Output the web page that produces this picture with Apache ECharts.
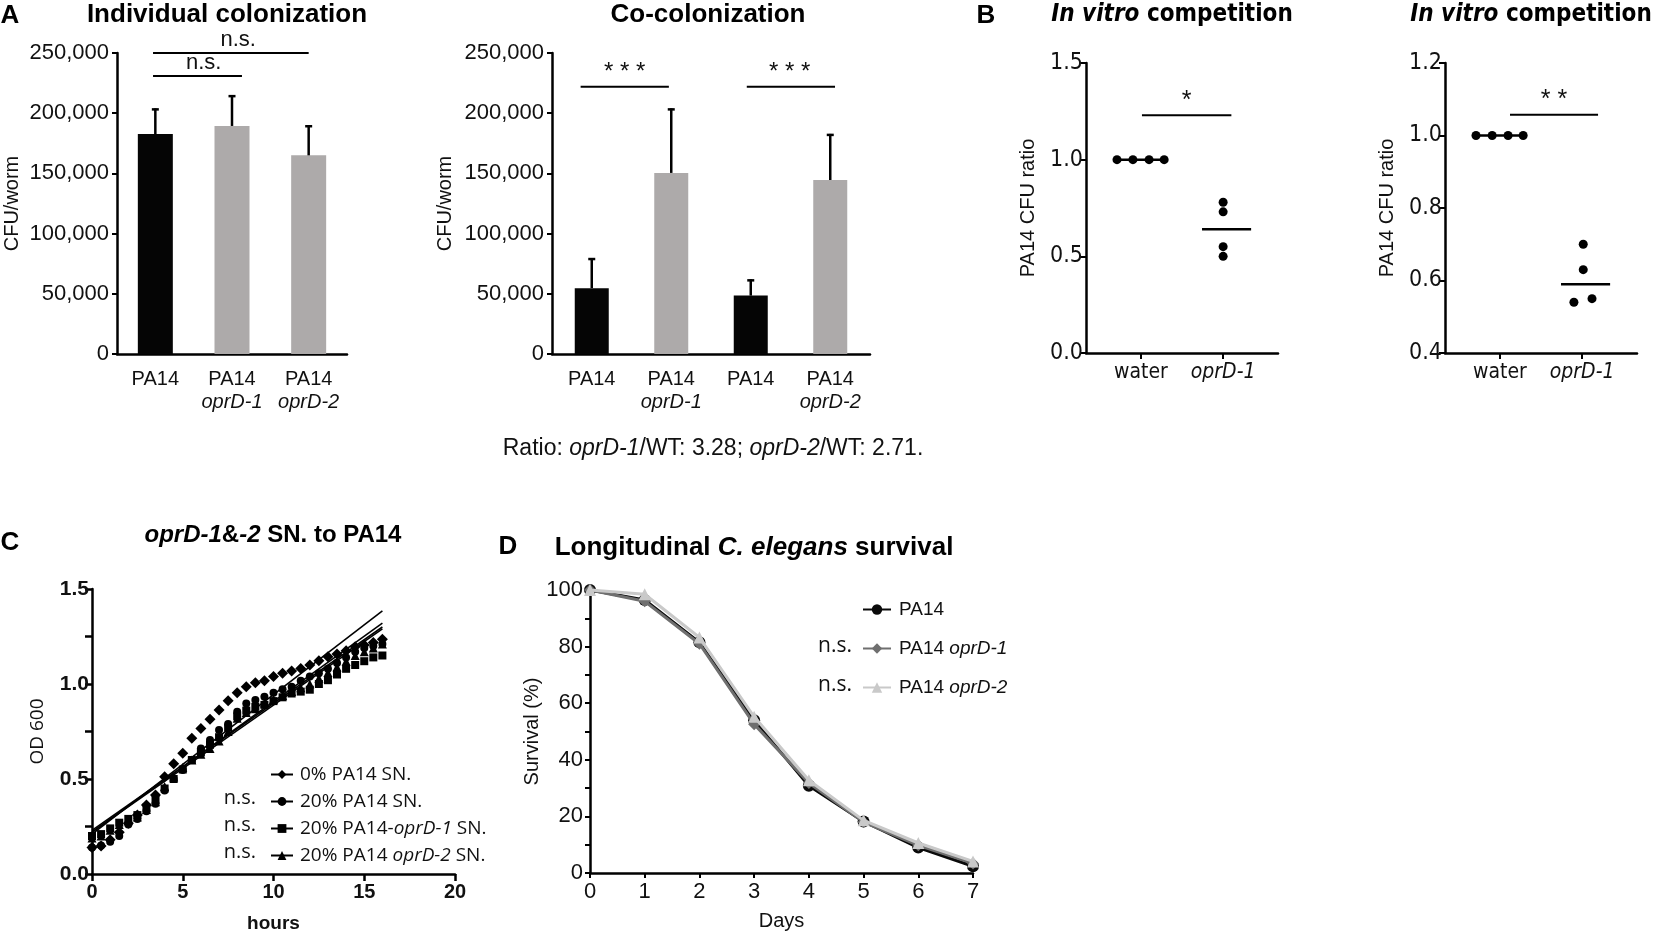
<!DOCTYPE html>
<html><head><meta charset="utf-8">
<script src="https://cdn.jsdelivr.net/npm/echarts@6/dist/echarts.min.js"></script>
<style>html,body{margin:0;padding:0;background:#fff}#c{width:1654px;height:939px}</style>
</head><body><div id="c"></div>
<script>
// ---------------- DATA ----------------
// Panel A - individual colonization (CFU/worm)
const indivCategories = ['PA14', 'PA14 oprD-1', 'PA14 oprD-2'];
const indivMean = [182700, 189400, 165000];
const indivSD = [21300, 25600, 25000];
const indivSig = [
  {from: -0.03, to: 2.0, y: 250000, at: 1.08, text: 'n.s.'},
  {from: -0.03, to: 1.13, y: 231000, at: 0.63, text: 'n.s.'}
];
// Panel A - co-colonization
const coCategories = ['PA14', 'PA14 oprD-1', 'PA14', 'PA14 oprD-2'];
const coMean = [54700, 150400, 48500, 144500];
const coSD = [25000, 53600, 13500, 38300];
const coSig = [
  {from: -0.14, to: 0.97, y: 222000, at: 0.415, text: '* * *'},
  {from: 1.95, to: 3.06, y: 222000, at: 2.49, text: '* * *'}
];
const ratioText = 'Ratio: {i|oprD-1}/WT: 3.28; {i|oprD-2}/WT: 2.71.';

// Panel B - in vitro competition (PA14 CFU ratio)
const bGroups = ['water', 'oprD-1'];
const bGroupPos = [2, 5];
const b1Water = [1.0, 1.0, 1.0, 1.0];
const b1WaterX = [1.13, 1.71, 2.30, 2.85];
const b1Oprd = [0.78, 0.73, 0.55, 0.50];
const b1OprdX = [5.0, 5.0, 5.0, 5.0];
const b2Water = [1.0, 1.0, 1.0, 1.0];
const b2WaterX = [1.13, 1.72, 2.30, 2.85];
const b2Oprd = [0.70, 0.63, 0.54, 0.55];
const b2OprdX = [5.04, 5.04, 4.70, 5.36];
const medianSpanWater = [1.13, 2.85];
const medianSpanOprd = [4.23, 6.02];
const b1Sig = [{from: 2.04, to: 5.30, y: 1.23, text: '*'}];
const b2Sig = [{from: 2.37, to: 5.58, y: 1.057, text: '* *'}];

// Panel C - growth curves (OD600)
const hours = [0,0.5,1,1.5,2,2.5,3,3.5,4,4.5,5,5.5,6,6.5,7,7.5,8,8.5,9,9.5,10,10.5,11,11.5,12,12.5,13,13.5,14,14.5,15,15.5,16];
const sn0 = [0.14,0.147,0.18,0.22,0.267,0.31,0.363,0.416,0.512,0.58,0.635,0.714,0.766,0.814,0.863,0.912,0.954,0.986,1.007,1.017,1.039,1.056,1.068,1.082,1.10,1.123,1.144,1.158,1.175,1.196,1.205,1.218,1.235];
const sn20 = [0.14,0.15,0.17,0.20,0.26,0.29,0.33,0.37,0.44,0.50,0.547,0.60,0.66,0.705,0.758,0.79,0.854,0.898,0.916,0.933,0.954,0.972,0.986,1.017,1.04,1.056,1.08,1.11,1.14,1.17,1.19,1.20,1.21];
const snOprd1 = [0.20,0.21,0.24,0.27,0.29,0.31,0.35,0.39,0.45,0.50,0.55,0.60,0.64,0.68,0.72,0.77,0.83,0.86,0.88,0.89,0.91,0.93,0.95,0.96,0.97,1.00,1.02,1.05,1.08,1.10,1.12,1.14,1.15];
const snOprd2 = [0.19,0.20,0.23,0.26,0.28,0.30,0.34,0.38,0.46,0.51,0.56,0.60,0.63,0.66,0.70,0.75,0.82,0.85,0.87,0.90,0.92,0.94,0.96,0.98,1.00,1.03,1.06,1.09,1.12,1.15,1.17,1.19,1.21];
const cNames = ['0% PA14 SN.', '20% PA14 SN.', '20% PA14-oprD-1 SN.', '20% PA14 oprD-2 SN.'];
const fitRange = [0, 16];
const fitLines = [[0.21, 1.385], [0.22, 1.32], [0.23, 1.30], [0.22, 1.29]];

// Panel D - survival
const days = [0, 1, 2, 3, 4, 5, 6, 7];
const survPA14 = [100, 96.5, 81.5, 54, 30.8, 18.2, 9.0, 2.4];
const survOprd1 = [100, 96.0, 81.0, 52.6, 31.8, 18.0, 9.8, 3.4];
const survOprd2 = [100, 98.5, 83.2, 55.2, 32.8, 18.6, 10.6, 4.1];
const dNames = ['PA14', 'PA14 oprD-1', 'PA14 oprD-2'];

// ---------------- STYLE HELPERS ----------------
const FONT = "'Liberation Sans', Arial, sans-serif";
const FONT_N = "'Liberation Sans Narrow', 'DejaVu Sans Condensed', 'Liberation Sans', sans-serif";
const FONT_O = "'Open Sans', sans-serif";
const INK = '#111';
const BLACK_BAR = '#050505', GRAY_BAR = '#ADAAAA';

function strainLabel(name) {
  const p = name.split(' ');
  return p.length > 1 ? p[0] + '\n{i|' + p[1] + '}' : p[0];
}
function commas(v) { return String(v).replace(/\B(?=(\d{3})+(?!\d))/g, ','); }
function italicize(name) { return name.replace(/(oprD-\d)/, '{i|$1}'); }

const axisLineStyle = {show: true, onZero: false, lineStyle: {color: '#000', width: 2.5}};
const tickStyle = {show: true, length: 5, lineStyle: {color: '#000', width: 2}};

function errSeries(means, sds, xi, yi) {
  return {
    type: 'custom', xAxisIndex: xi, yAxisIndex: yi, clip: false, silent: true, z: 4,
    data: means.map((m, i) => [i, m, sds[i]]),
    renderItem: (params, api) => {
      const x = api.value(0), m = api.value(1), e = api.value(2);
      const p0 = api.coord([x, m]), p1 = api.coord([x, m + e]);
      return {type: 'group', children: [
        {type: 'line', shape: {x1: p0[0], y1: p0[1], x2: p1[0], y2: p1[1]}, style: {stroke: '#000', lineWidth: 2.5}},
        {type: 'line', shape: {x1: p1[0] - 3.5, y1: p1[1] + 1, x2: p1[0] + 3.5, y2: p1[1] + 1}, style: {stroke: '#000', lineWidth: 2.5}}
      ]};
    }
  };
}

function sigSeries(list, xi, yi, isCategory, font, size) {
  return {
    type: 'custom', xAxisIndex: xi, yAxisIndex: yi, clip: false, silent: true, z: 6,
    data: list.map(s => [0, s.y]),
    renderItem: (params, api) => {
      const s = list[params.dataIndex];
      let px;
      if (isCategory) {
        const base = api.coord([0, s.y]);
        const band = api.size([1, 0])[0];
        px = v => base[0] + v * band;
      } else {
        px = v => api.coord([v, s.y])[0];
      }
      const y = api.coord([0, s.y])[1];
      const at = s.at !== undefined ? s.at : (s.from + s.to) / 2;
      return {type: 'group', children: [
        {type: 'line', shape: {x1: px(s.from), y1: y, x2: px(s.to), y2: y}, style: {stroke: '#000', lineWidth: 2}},
        {type: 'text', x: px(at), y: y - 2, style: {text: s.text, fontFamily: font, fontSize: size, fill: INK, align: 'center', verticalAlign: 'bottom'}}
      ]};
    }
  };
}

function dots(xs, ys, xi, yi) {
  return {type: 'scatter', xAxisIndex: xi, yAxisIndex: yi, symbol: 'circle', symbolSize: 9,
    itemStyle: {color: '#000', opacity: 1}, silent: true, z: 5, data: ys.map((v, i) => [xs[i], v])};
}
function median(a) {
  const s = a.slice().sort((x, y) => x - y); const n = s.length;
  return n % 2 ? s[(n - 1) / 2] : (s[n / 2 - 1] + s[n / 2]) / 2;
}
function medLine(span, vals, xi, yi) {
  const m = median(vals);
  return {type: 'line', xAxisIndex: xi, yAxisIndex: yi, symbol: 'none', silent: true, z: 4,
    lineStyle: {color: '#000', width: 2.5}, data: [[span[0], m], [span[1], m]]};
}

function bAxisX(gi) {
  return {gridIndex: gi, type: 'value', min: 0, max: 7,
    axisLine: axisLineStyle, splitLine: {show: false},
    axisTick: {show: true, length: 6, lineStyle: {color: '#000', width: 2}, customValues: bGroupPos},
    axisLabel: {customValues: bGroupPos, margin: 9, fontFamily: FONT_N, fontSize: 21, color: INK,
      formatter: v => { const i = bGroupPos.indexOf(v); return i < 0 ? '' : (bGroups[i] === 'water' ? 'water' : '{i|' + bGroups[i] + '}'); },
      rich: {i: {fontFamily: FONT_N, fontSize: 21, fontStyle: 'italic', color: INK}}}};
}
function bAxisY(gi, min, max, interval) {
  return {gridIndex: gi, type: 'value', min: min, max: max, interval: interval,
    axisLine: axisLineStyle, axisTick: {show: true, length: 6, lineStyle: {color: '#000', width: 2}},
    splitLine: {show: false},
    axisLabel: {fontFamily: FONT_N, fontSize: 23, color: INK, margin: 3, formatter: v => v.toFixed(1)},
    name: 'PA14 CFU ratio', nameLocation: 'middle', nameRotate: 90, nameGap: 48,
    nameTextStyle: {fontFamily: FONT, fontSize: 20, color: INK}};
}

function cSeries(name, vals, symbol, size) {
  return {type: 'line', name: name, xAxisIndex: 4, yAxisIndex: 4, symbol: symbol, symbolSize: size,
    showSymbol: true, silent: true, z: 3,
    itemStyle: {color: '#000', borderWidth: 0, opacity: 1}, lineStyle: {opacity: 0, width: 0},
    data: hours.map((t, i) => [t, vals[i]])};
}
function dSeries(name, vals, symbol, color, z) {
  return {type: 'line', name: name, xAxisIndex: 5, yAxisIndex: 5, symbol: symbol, symbolSize: 12,
    silent: true, z: z, itemStyle: {color: color, opacity: 1}, lineStyle: {color: color, width: 3},
    data: days.map((d, i) => [d, vals[i]])};
}

const txt = (x, y, text, size, weight, extra) => Object.assign({type: 'text', x: x, y: y,
  style: Object.assign({text: text, fontFamily: FONT, fontWeight: weight || 'normal', fontSize: size, fill: '#000',
    align: 'center', verticalAlign: 'middle'}, extra || {})});

const option = {
  animation: false,
  backgroundColor: '#fff',
  grid: [
    {left: 117, top: 53, width: 230, height: 301},
    {left: 552, top: 53, width: 318, height: 301},
    {left: 1086, top: 63, width: 192, height: 290},
    {left: 1445, top: 63, width: 192, height: 290},
    {left: 92, top: 589, width: 363, height: 285},
    {left: 590, top: 590, width: 383, height: 283}
  ],
  xAxis: [
    {gridIndex: 0, type: 'category', data: indivCategories, axisLine: axisLineStyle, axisTick: {show: false},
      axisLabel: {interval: 0, margin: 14, fontFamily: FONT, fontSize: 20, color: INK, lineHeight: 23,
        formatter: (v, i) => strainLabel(indivCategories[i]),
        rich: {i: {fontFamily: FONT, fontSize: 20, fontStyle: 'italic', color: INK, lineHeight: 23}}}},
    {gridIndex: 1, type: 'category', data: coCategories, axisLine: axisLineStyle, axisTick: {show: false},
      axisLabel: {interval: 0, margin: 14, fontFamily: FONT, fontSize: 20, color: INK, lineHeight: 23,
        formatter: (v, i) => strainLabel(coCategories[i]),
        rich: {i: {fontFamily: FONT, fontSize: 20, fontStyle: 'italic', color: INK, lineHeight: 23}}}},
    bAxisX(2),
    bAxisX(3),
    {gridIndex: 4, type: 'value', min: 0, max: 20, interval: 5, axisLine: axisLineStyle,
      axisTick: {show: true, length: 7, lineStyle: {color: '#000', width: 2.5}}, splitLine: {show: false},
      axisLabel: {fontFamily: FONT, fontWeight: 'bold', fontSize: 20, color: INK, margin: 8},
      name: 'hours', nameLocation: 'middle', nameGap: 40,
      nameTextStyle: {fontFamily: FONT, fontWeight: 'bold', fontSize: 19, color: INK}},
    {gridIndex: 5, type: 'value', min: 0, max: 7, interval: 1, axisLine: axisLineStyle,
      axisTick: tickStyle, splitLine: {show: false},
      axisLabel: {fontFamily: FONT, fontSize: 22, color: INK, margin: 8},
      name: 'Days', nameLocation: 'middle', nameGap: 38,
      nameTextStyle: {fontFamily: FONT, fontSize: 20, color: INK}}
  ],
  yAxis: [
    {gridIndex: 0, type: 'value', min: 0, max: 250000, interval: 50000, axisLine: axisLineStyle,
      axisTick: tickStyle, splitLine: {show: false},
      axisLabel: {fontFamily: FONT, fontSize: 22, color: INK, margin: 8, formatter: v => commas(v)},
      name: 'CFU/worm', nameLocation: 'middle', nameRotate: 90, nameGap: 95,
      nameTextStyle: {fontFamily: FONT, fontSize: 20, color: INK}},
    {gridIndex: 1, type: 'value', min: 0, max: 250000, interval: 50000, axisLine: axisLineStyle,
      axisTick: tickStyle, splitLine: {show: false},
      axisLabel: {fontFamily: FONT, fontSize: 22, color: INK, margin: 8, formatter: v => commas(v)},
      name: 'CFU/worm', nameLocation: 'middle', nameRotate: 90, nameGap: 97,
      nameTextStyle: {fontFamily: FONT, fontSize: 20, color: INK}},
    bAxisY(2, 0, 1.5, 0.5),
    bAxisY(3, 0.4, 1.2, 0.2),
    {gridIndex: 4, type: 'value', min: 0, max: 1.5, interval: 0.25, axisLine: axisLineStyle,
      axisTick: {show: true, length: 7, lineStyle: {color: '#000', width: 2.5}}, splitLine: {show: false},
      axisLabel: {fontFamily: FONT, fontWeight: 'bold', fontSize: 21, color: INK, margin: 3,
        formatter: v => (Math.abs(v * 2 - Math.round(v * 2)) < 1e-6 ? v.toFixed(1) : '')},
      name: 'OD 600', nameLocation: 'middle', nameRotate: 90, nameGap: 45,
      nameTextStyle: {fontFamily: FONT_O, fontSize: 19, color: INK}},
    {gridIndex: 5, type: 'value', min: 0, max: 100, interval: 10, axisLine: axisLineStyle,
      axisTick: tickStyle, splitLine: {show: false},
      axisLabel: {fontFamily: FONT, fontSize: 22, color: INK, margin: 7,
        formatter: v => (v % 20 === 0 ? String(v) : '')},
      name: 'Survival (%)', nameLocation: 'middle', nameRotate: 90, nameGap: 42,
      nameTextStyle: {fontFamily: FONT, fontSize: 20, color: INK}}
  ],
  legend: [
    {data: cNames, orient: 'vertical', left: 265, top: 760, itemWidth: 22, itemHeight: 11, itemGap: 8,
      selectedMode: false, formatter: n => italicize(n),
      lineStyle: {width: 2, color: '#000', opacity: 1},
      textStyle: {fontFamily: FONT_O, fontSize: 19, color: INK, padding: [0, 0, 0, 2],
        rich: {i: {fontFamily: FONT_O, fontSize: 19, fontStyle: 'italic', color: INK}}}},
    {data: dNames, orient: 'vertical', left: 857, top: 595, itemWidth: 28, itemHeight: 13, itemGap: 20,
      selectedMode: false, formatter: n => italicize(n),
      textStyle: {fontFamily: FONT, fontSize: 19, color: INK, padding: [0, 0, 0, 3],
        rich: {i: {fontFamily: FONT, fontSize: 19, fontStyle: 'italic', color: INK}}}}
  ],
  series: [
    // A1
    {type: 'bar', xAxisIndex: 0, yAxisIndex: 0, barWidth: 35, silent: true,
      data: indivMean.map((v, i) => ({value: v, itemStyle: {color: indivCategories[i].includes('oprD') ? GRAY_BAR : BLACK_BAR}}))},
    errSeries(indivMean, indivSD, 0, 0),
    sigSeries(indivSig, 0, 0, true, FONT, 22),
    // A2
    {type: 'bar', xAxisIndex: 1, yAxisIndex: 1, barWidth: 34, silent: true,
      data: coMean.map((v, i) => ({value: v, itemStyle: {color: coCategories[i].includes('oprD') ? GRAY_BAR : BLACK_BAR}}))},
    errSeries(coMean, coSD, 1, 1),
    sigSeries(coSig, 1, 1, true, FONT, 24),
    // B1
    medLine(medianSpanWater, b1Water, 2, 2),
    medLine(medianSpanOprd, b1Oprd, 2, 2),
    dots(b1WaterX, b1Water, 2, 2),
    dots(b1OprdX, b1Oprd, 2, 2),
    sigSeries(b1Sig, 2, 2, false, FONT, 25),
    // B2
    medLine(medianSpanWater, b2Water, 3, 3),
    medLine(medianSpanOprd, b2Oprd, 3, 3),
    dots(b2WaterX, b2Water, 3, 3),
    dots(b2OprdX, b2Oprd, 3, 3),
    sigSeries(b2Sig, 3, 3, false, FONT, 25),
    // C
    cSeries(cNames[0], sn0, 'diamond', 11),
    cSeries(cNames[1], sn20, 'circle', 8),
    cSeries(cNames[2], snOprd1, 'rect', 8),
    cSeries(cNames[3], snOprd2, 'triangle', 9),
    ...fitLines.map(f => ({type: 'line', xAxisIndex: 4, yAxisIndex: 4, symbol: 'none', silent: true, z: 4,
      lineStyle: {color: '#000', width: 1.6}, data: [[fitRange[0], f[0]], [fitRange[1], f[1]]]})),
    // D
    dSeries(dNames[0], survPA14, 'circle', '#0a0a0a', 3),
    dSeries(dNames[1], survOprd1, 'diamond', '#6f6f6f', 4),
    dSeries(dNames[2], survOprd2, 'triangle', '#c9c9c9', 5)
  ],
  graphic: [
    txt(10, 16, 'A', 26, 'bold'),
    txt(986, 16, 'B', 26, 'bold'),
    txt(10, 543, 'C', 26, 'bold'),
    txt(508, 547, 'D', 26, 'bold'),
    txt(227, 15, 'Individual colonization', 26, 'bold'),
    txt(708, 15, 'Co-colonization', 26, 'bold'),
    txt(1172, 15, '{i|In vitro} competition', 24, 'bold', {fontFamily: FONT_N,
      rich: {i: {fontFamily: FONT_N, fontWeight: 'bold', fontStyle: 'italic', fontSize: 24, fill: '#000'}}}),
    txt(1531, 15, '{i|In vitro} competition', 24, 'bold', {fontFamily: FONT_N,
      rich: {i: {fontFamily: FONT_N, fontWeight: 'bold', fontStyle: 'italic', fontSize: 24, fill: '#000'}}}),
    txt(273, 535, '{i|oprD-1}&{i|-2} SN. to PA14', 24, 'bold',
      {rich: {i: {fontFamily: FONT, fontWeight: 'bold', fontStyle: 'italic', fontSize: 24, fill: '#000'}}}),
    txt(754, 548, 'Longitudinal {i|C. elegans} survival', 26, 'bold',
      {rich: {i: {fontFamily: FONT, fontWeight: 'bold', fontStyle: 'italic', fontSize: 26, fill: '#000'}}}),
    txt(713, 449, ratioText, 23, 'normal',
      {fill: INK, rich: {i: {fontFamily: FONT, fontStyle: 'italic', fontSize: 23, fill: INK}}}),
    txt(256, 798, 'n.s.', 20, 'normal', {fontFamily: FONT_O, fill: INK, align: 'right'}),
    txt(256, 825, 'n.s.', 20, 'normal', {fontFamily: FONT_O, fill: INK, align: 'right'}),
    txt(256, 852, 'n.s.', 20, 'normal', {fontFamily: FONT_O, fill: INK, align: 'right'}),
    txt(852, 646, 'n.s.', 21, 'normal', {fontFamily: FONT_O, fill: INK, align: 'right'}),
    txt(852, 685, 'n.s.', 21, 'normal', {fontFamily: FONT_O, fill: INK, align: 'right'})
  ]
};

const chart = echarts.init(document.getElementById('c'), null, {renderer: 'canvas'});
chart.setOption(option);
</script>
</body></html>
